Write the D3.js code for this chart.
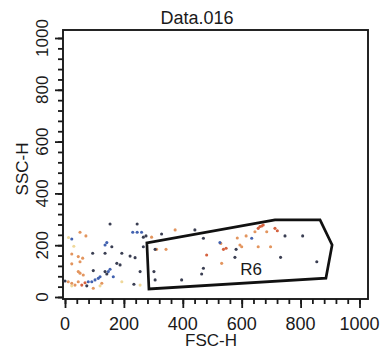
<!DOCTYPE html>
<html>
<head>
<meta charset="utf-8">
<script src="https://cdn.jsdelivr.net/npm/d3@7"></script>
<style>
  body { margin: 0; background: #fff; }
  text { font-family: "Liberation Sans", Arial, sans-serif; fill: #1a1a1a; }
</style>
</head>
<body>
<div id="chart"></div>
<script>
// events per colour group (FSC-H, SSC-H)
const darkX = [153, 245, 328, 441, 275, 266, 94, 136, 193, 159, 221, 238, 176, 187, 96, 266, 302, 136, 142, 0, 74, 234, 306, 396, 470, 581, 470, 464, 255, 747, 807, 577, 732, 855, 306];
const darkY = [282, 282, 243, 259, 236, 231, 169, 169, 169, 194, 158, 152, 130, 124, 102, 194, 98, 98, 89, 62, 43, 49, 66, 66, 227, 184, 111, 89, 98, 236, 236, 153, 153, 136, 184];
const blueX = [230, 245, 260, 23, 142, 136, 153, 147, 113, 102, 91, 79, 119, 164, 634, 526];
const blueY = [250, 250, 250, 224, 210, 201, 107, 98, 72, 66, 59, 59, 78, 78, 227, 210];
const orangeX = [51, 71, 23, 45, 60, 51, 23, 45, 51, 62, 11, 23, 34, 45, 125, 311, 343, 294, 374, 529, 585, 594, 600, 532, 615, 645, 685, 656, 698, 96];
const orangeY = [250, 236, 166, 156, 150, 136, 128, 98, 92, 85, 59, 53, 46, 59, 53, 184, 184, 231, 259, 207, 228, 201, 194, 130, 236, 252, 252, 194, 194, 34];
const redX = [57, 68, 656, 662, 668, 673, 713, 721, 547, 538, 481];
const redY = [46, 55, 265, 272, 274, 278, 265, 256, 188, 184, 162];
const yellowX = [193, 23, 255, 119, 12, 30];
const yellowY = [59, 43, 46, 43, 230, 196];

// gate R6 vertices
const gateX = [278, 285, 886, 907, 866, 713];
const gateY = [209, 31, 73, 201, 298, 298];

const minorTicks = d3.range(0, 1001, 40);
const majorTicks = [0, 200, 400, 600, 800, 1000];

const width = 382, height = 351;
const svg = d3.select("#chart").append("svg")
  .attr("width", width)
  .attr("height", height);

const x = d3.scaleLinear().domain([0, 1000]).range([65, 359.5]);
const y = d3.scaleLinear().domain([0, 1000]).range([297, 38]);

const frame = { left: 63, right: 368, top: 30, bottom: 299 };

// x axis ticks
svg.append("g")
  .attr("transform", "translate(0," + frame.bottom + ")")
  .call(d3.axisBottom(x).tickValues(minorTicks).tickSize(5).tickFormat(""))
  .call(g => g.select(".domain").remove())
  .selectAll("line").attr("stroke", "#1a1a1a").attr("stroke-width", 1.8);
svg.append("g")
  .attr("transform", "translate(0," + frame.bottom + ")")
  .call(d3.axisBottom(x).tickValues(majorTicks).tickSize(9).tickFormat(""))
  .call(g => g.select(".domain").remove())
  .selectAll("line").attr("stroke", "#1a1a1a").attr("stroke-width", 1.8);

// y axis ticks
svg.append("g")
  .attr("transform", "translate(" + frame.left + ",0)")
  .call(d3.axisLeft(y).tickValues(minorTicks).tickSize(5).tickFormat(""))
  .call(g => g.select(".domain").remove())
  .selectAll("line").attr("stroke", "#1a1a1a").attr("stroke-width", 1.8);
svg.append("g")
  .attr("transform", "translate(" + frame.left + ",0)")
  .call(d3.axisLeft(y).tickValues(majorTicks).tickSize(8).tickFormat(""))
  .call(g => g.select(".domain").remove())
  .selectAll("line").attr("stroke", "#1a1a1a").attr("stroke-width", 1.8);

// tick labels
svg.selectAll(".xlab").data(majorTicks).enter().append("text")
  .attr("x", d => x(d))
  .attr("y", 330)
  .attr("text-anchor", "middle")
  .style("font-size", "18px")
  .text(d => d);
svg.selectAll(".ylab").data(majorTicks).enter().append("text")
  .attr("transform", d => "translate(48," + y(d) + ") rotate(-90)")
  .attr("text-anchor", "middle")
  .style("font-size", "17px")
  .text(d => d);

// frame
svg.append("rect")
  .attr("x", frame.left).attr("y", frame.top)
  .attr("width", frame.right - frame.left)
  .attr("height", frame.bottom - frame.top)
  .attr("fill", "none")
  .attr("stroke", "#1a1a1a")
  .attr("stroke-width", 1.9);

// dots
const groups = [
  [yellowX, yellowY, "#efd89a"],
  [orangeX, orangeY, "#e3955e"],
  [redX, redY, "#d5623f"],
  [blueX, blueY, "#4262b0"],
  [darkX, darkY, "#3a3e52"]
];
groups.forEach(([gx, gy, col]) => {
  svg.append("g").selectAll("circle")
    .data(gx.map((v, i) => [v, gy[i]]))
    .enter().append("circle")
    .attr("cx", d => x(d[0]))
    .attr("cy", d => y(d[1]))
    .attr("r", 1.55)
    .attr("fill", col);
});

// gate
const gatePts = gateX.map((v, i) => [x(v), y(gateY[i])]);
svg.append("path")
  .attr("d", d3.line()(gatePts) + "Z")
  .attr("fill", "none")
  .attr("stroke", "#111")
  .attr("stroke-width", 2.7)
  .attr("stroke-linejoin", "miter");

svg.append("text")
  .attr("x", x(632)).attr("y", y(85))
  .attr("text-anchor", "middle")
  .style("font-size", "17px")
  .text("R6");

// titles
svg.append("text")
  .attr("x", 197).attr("y", 24)
  .attr("text-anchor", "middle")
  .style("font-size", "18px")
  .text("Data.016");
svg.append("text")
  .attr("x", 211).attr("y", 346)
  .attr("text-anchor", "middle")
  .style("font-size", "17px")
  .text("FSC-H");
svg.append("text")
  .attr("transform", "translate(28,169) rotate(-90)")
  .attr("text-anchor", "middle")
  .style("font-size", "17px")
  .text("SSC-H");
</script>
</body>
</html>
